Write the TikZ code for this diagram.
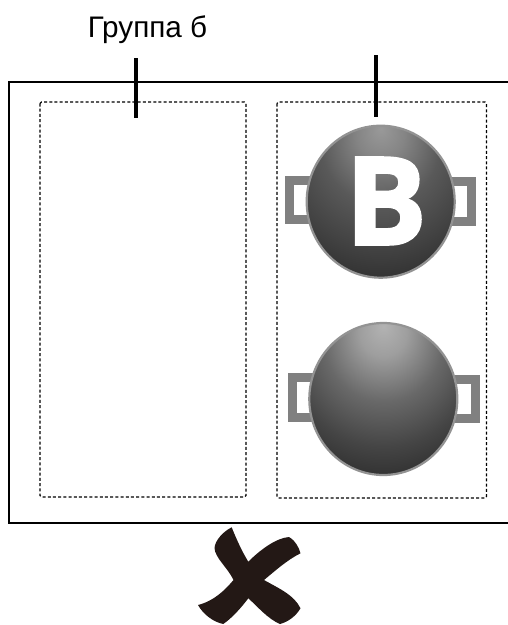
\documentclass[tikz,border=0pt]{standalone}
\usepackage{fontspec}
\setmainfont{Liberation Sans}
\newfontfamily\bfont{Open Sans}[BoldFeatures={FakeBold=2}]
\usetikzlibrary{shapes.geometric}
\definecolor{hnd}{HTML}{808080}
\definecolor{ink}{HTML}{231815}
\pgfdeclareradialshading{potA}{\pgfpoint{0bp}{24bp}}{%
  rgb(0bp)=(0.60,0.60,0.60);
  rgb(8bp)=(0.52,0.52,0.52);
  rgb(20bp)=(0.35,0.35,0.35);
  rgb(32bp)=(0.26,0.26,0.26);
  rgb(46bp)=(0.15,0.15,0.15);
  rgb(100bp)=(0.13,0.13,0.13)}
\pgfdeclareradialshading{potB}{\pgfpoint{0bp}{24bp}}{%
  rgb(0bp)=(0.70,0.70,0.70);
  rgb(8bp)=(0.62,0.62,0.62);
  rgb(20bp)=(0.41,0.41,0.41);
  rgb(32bp)=(0.27,0.27,0.27);
  rgb(46bp)=(0.14,0.14,0.14);
  rgb(100bp)=(0.12,0.12,0.12)}
\tikzset{
  groupbox/.style={draw=black,line width=1.25pt,dash pattern=on 3pt off 2.2pt,rounded corners=1.5pt},
  tick/.style={draw=black,line width=4.5pt},
  handle/.style={draw=hnd,line width=9pt},
  ball/.style={ellipse,inner sep=0pt,draw=hnd!85,line width=2.2pt,minimum width=148pt,minimum height=152pt},
  ballA/.style={ball,shade,shading=potA},
  ballB/.style={ball,shade,shading=potB},
}
\begin{document}
\begin{tikzpicture}[x=1pt,y=-1pt]
\useasboundingbox (0,0) rectangle (508,625);
\draw[black,line width=1.2pt] (508,82) -- (9,82) -- (9,523) -- (508,523);
\node[font=\fontsize{29.7}{32}\selectfont,inner sep=0pt] (title) at (147.5,29.5) {Группа б};
\draw[groupbox] (40,102) rectangle (246,497);
\draw[groupbox] (277,102) rectangle (486.5,498);
\coordinate (t1a) at (136,58); \coordinate (t1b) at (136,118);
\coordinate (t2a) at (376,55); \coordinate (t2b) at (376,117);
\draw[tick] (t1a) -- (t1b);
\draw[tick] (t2a) -- (t2b);
% handles, upper pot
\draw[handle] (320,180.5) -- (289.5,180.5) -- (289.5,219.5) -- (320,219.5);
\draw[handle] (440,181.5) -- (471.5,181.5) -- (471.5,221.5) -- (440,221.5);
\node[ballA] (pot1) at (380.7,201.7) {};
\node[text=white,font={\bfont\bfseries\fontsize{122}{122}\selectfont},inner sep=0pt] (blabel) at (386,201) {B};
% handles, lower pot
\draw[handle] (320,377.5) -- (292.5,377.5) -- (292.5,417.5) -- (320,417.5);
\draw[handle] (440,379) -- (475.5,379) -- (475.5,418.5) -- (440,418.5);
\node[ballB] (pot2) at (383.3,399) {};
% cross
\fill[ink] (231.7,527.3) .. controls (238,543) and (243,553) .. (248.3,561.7)
  .. controls (260,550) and (276,538) .. (289,537)
  .. controls (296,541) and (299,548) .. (300.5,553.3)
  .. controls (287,560) and (275,571) .. (264,580)
  .. controls (280,589) and (294,595) .. (300.5,608.3)
  .. controls (296,616) and (288,622) .. (280,624)
  .. controls (268,619) and (258,607) .. (248.3,598.3)
  .. controls (241,608) and (232,618) .. (223.3,624)
  .. controls (213,622) and (203,614) .. (198,605)
  .. controls (214,601) and (225,590) .. (233.5,580)
  .. controls (228,568) and (215,558) .. (214.5,548)
  .. controls (215,540) and (224,531) .. (231.7,527.3) -- cycle;
\end{tikzpicture}
\end{document}
